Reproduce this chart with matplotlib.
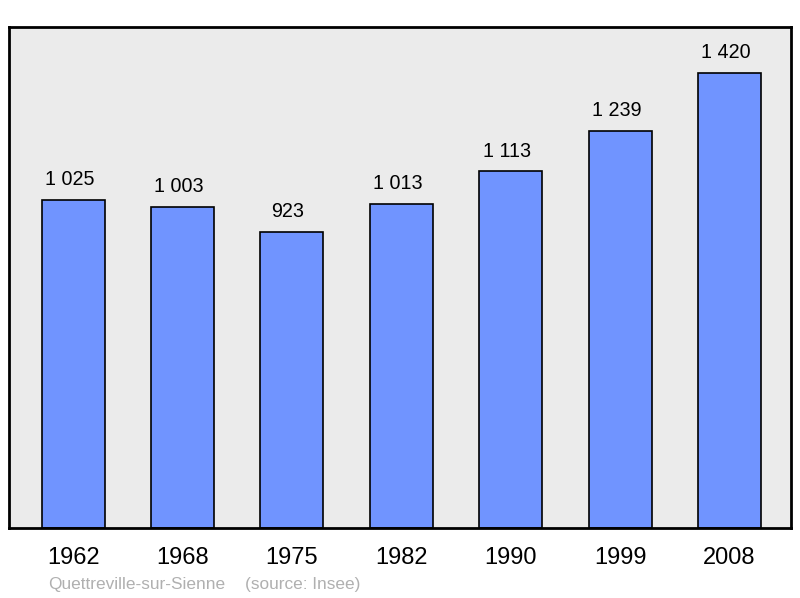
import matplotlib.pyplot as plt

years = ["1962", "1968", "1975", "1982", "1990", "1999", "2008"]
population = [1025, 1003, 923, 1013, 1113, 1239, 1420]
value_labels = ["1 025", "1 003", "923", "1 013", "1 113", "1 239", "1 420"]

plt.rcParams['font.family'] = ['Liberation Sans', 'DejaVu Sans']

fig = plt.figure(figsize=(8, 5.98), dpi=100)
ax = fig.add_axes([9 / 800, 1 - 528 / 598, 782 / 800, 501 / 598])
ax.set_facecolor("#ebebeb")

x = list(range(len(years)))
ax.bar(x, population, width=0.576, color="#7094ff", edgecolor="black", linewidth=1.2, zorder=2)

for xi, v, lab in zip(x, population, value_labels):
    ax.text(xi - 0.035, v + 34, lab, ha="center", va="bottom", fontsize=14.2, color="black")

ax.set_xlim(-0.586, 6 + 0.562)
ax.set_ylim(0, 1564)
ax.set_yticks([])
ax.set_xticks(x)
ax.set_xticklabels(years, fontsize=17)
ax.tick_params(axis="x", length=0, pad=14)
for s in ax.spines.values():
    s.set_linewidth(2)
    s.set_color("black")

fig.text(48 / 800, 1 - 584 / 598, "Quettreville-sur-Sienne",
         fontsize=12.4, color="#b0b0b0", ha="left", va="center")
fig.text(245 / 800, 1 - 584 / 598, "(source: Insee)",
         fontsize=12.4, color="#b0b0b0", ha="left", va="center")

fig.savefig("out.png", dpi=100, facecolor="white")
